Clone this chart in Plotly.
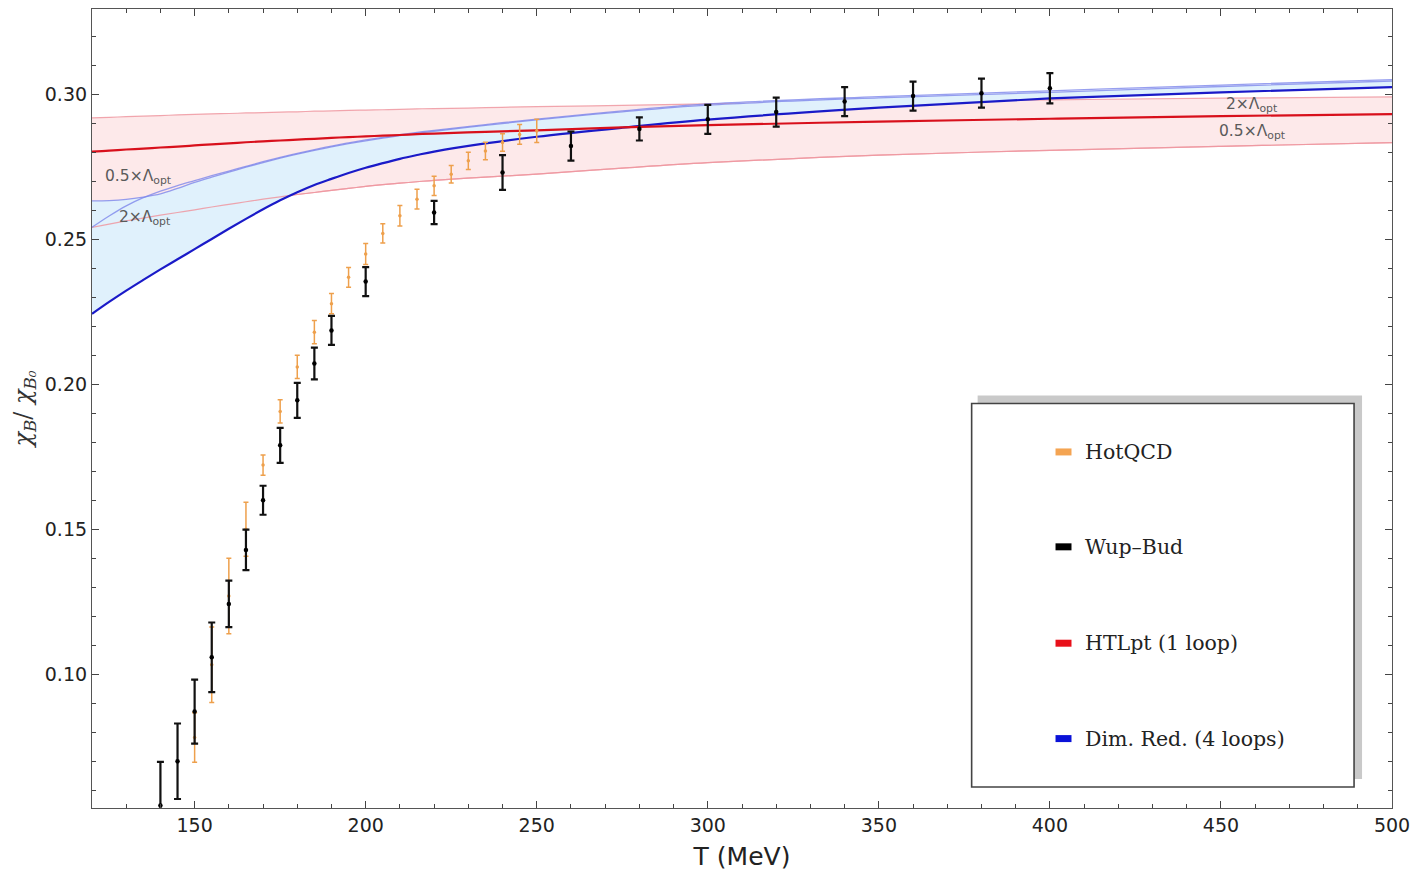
import plotly.graph_objects as go

# ---- lattice data: HotQCD ----
hot_T = [150, 155, 160, 165, 170, 175, 180, 185, 190, 195, 200,
         205, 210, 215, 220, 225, 230, 235, 240, 245, 250]
hot_val = [0.0784, 0.1034, 0.1271, 0.1501, 0.1722, 0.1907, 0.2060, 0.2180,
           0.2278, 0.2369, 0.2449, 0.2520, 0.2581, 0.2638, 0.2684, 0.2724,
           0.2770, 0.2804, 0.2833, 0.2861, 0.2873]
hot_err = [0.0085, 0.013, 0.013, 0.0093, 0.0035, 0.004, 0.004, 0.004,
           0.0035, 0.0034, 0.0036, 0.0033, 0.0035, 0.0034, 0.0033, 0.003,
           0.003, 0.003, 0.003, 0.0034, 0.004]

# ---- lattice data: Wuppertal-Budapest ----
wb_T = [140, 145, 150, 155, 160, 165, 170, 175, 180, 185, 190, 200,
        220, 240, 260, 280, 300, 320, 340, 360, 380, 400]
wb_val = [0.0550, 0.0702, 0.0873, 0.1060, 0.1244, 0.1430, 0.1601, 0.1790,
          0.1945, 0.2072, 0.2186, 0.2354, 0.2592, 0.2730, 0.2821, 0.2880,
          0.2913, 0.2938, 0.2974, 0.2993, 0.3003, 0.3020]
wb_err = [0.015, 0.013, 0.011, 0.012, 0.008, 0.007, 0.005, 0.006, 0.006,
          0.0055, 0.005, 0.005, 0.004, 0.006, 0.005, 0.004, 0.005, 0.005,
          0.005, 0.005, 0.005, 0.0052]

# ---- analytic curves on a common temperature grid ----
curve_T = [120, 125, 130, 135, 140, 145, 150, 155, 160, 165, 170, 175, 180,
           185, 190, 195, 200, 205, 210, 215, 220, 235, 250, 275, 300, 350,
           400, 450, 500]
htl_mid = [0.2802, 0.2805, 0.2809, 0.2812, 0.2816, 0.2819, 0.2823, 0.2827,
           0.2830, 0.2834, 0.2837, 0.2840, 0.2843, 0.2846, 0.2849, 0.2852,
           0.2854, 0.2857, 0.2859, 0.2862, 0.2864, 0.2870, 0.2875, 0.2885,
           0.2893, 0.2905, 0.2915, 0.2924, 0.2931]
htl_2x = [0.2918, 0.2920, 0.2922, 0.2924, 0.2926, 0.2928, 0.2930, 0.2932,
          0.2933, 0.2935, 0.2936, 0.2938, 0.2939, 0.2941, 0.2942, 0.2944,
          0.2945, 0.2946, 0.2947, 0.2949, 0.2950, 0.2953, 0.2957, 0.2961,
          0.2966, 0.2974, 0.2980, 0.2986, 0.2990]
htl_half = [0.2541, 0.2552, 0.2563, 0.2573, 0.2583, 0.2592, 0.2601, 0.2611,
            0.2620, 0.2629, 0.2638, 0.2646, 0.2654, 0.2661, 0.2668, 0.2675,
            0.2682, 0.2688, 0.2693, 0.2698, 0.2703, 0.2714, 0.2724, 0.2745,
            0.2764, 0.2790, 0.2806, 0.2820, 0.2833]
dr_mid = [0.2243, 0.2284, 0.2323, 0.2360, 0.2396, 0.2431, 0.2466, 0.2501,
          0.2536, 0.2570, 0.2603, 0.2634, 0.2662, 0.2687, 0.2708, 0.2728,
          0.2746, 0.2762, 0.2777, 0.2790, 0.2802, 0.2830, 0.2853, 0.2884,
          0.2912, 0.2953, 0.2985, 0.3006, 0.3024]
dr_half = [0.2632, 0.2633, 0.2637, 0.2645, 0.2656, 0.2675, 0.2696, 0.2714,
           0.2731, 0.2748, 0.2764, 0.2779, 0.2793, 0.2806, 0.2818, 0.2829,
           0.2839, 0.2848, 0.2857, 0.2865, 0.2872, 0.2892, 0.2911, 0.2939,
           0.2962, 0.2987, 0.3006, 0.3026, 0.3045]
dr_2x = [0.2541, 0.2580, 0.2615, 0.2643, 0.2666, 0.2685, 0.2702, 0.2719,
         0.2735, 0.2751, 0.2767, 0.2782, 0.2796, 0.2809, 0.2821, 0.2832,
         0.2842, 0.2851, 0.2860, 0.2868, 0.2875, 0.2895, 0.2914, 0.2942,
         0.2966, 0.2991, 0.3011, 0.3031, 0.3050]

x_ticks = [150, 200, 250, 300, 350, 400, 450, 500]
y_ticks = [0.10, 0.15, 0.20, 0.25, 0.30]

legend_names = ["HotQCD", "Wup\u2013Bud", "HTLpt (1 loop)", "Dim. Red. (4 loops)"]
legend_colors = ["#f4a452", "#000000", "#e8101a", "#0a12d8"]

ORANGE = "#eea04c"
PINK_FILL = "rgba(253,233,234,1)"
PINK_LINE = "rgba(238,150,160,0.85)"
BLUE_FILL = "rgba(224,241,252,1)"
BLUE_LIGHT = "rgba(125,135,235,0.8)"

fig = go.Figure()

# HTLpt band
fig.add_trace(go.Scatter(x=curve_T, y=htl_2x, mode="lines", line=dict(color=PINK_LINE, width=1.2, shape="spline"),
                         hoverinfo="skip"))
fig.add_trace(go.Scatter(x=curve_T, y=htl_half, mode="lines", line=dict(color=PINK_LINE, width=1.2, shape="spline"),
                         fill="tonexty", fillcolor=PINK_FILL, hoverinfo="skip"))

# Dimensional-reduction band
fig.add_trace(go.Scatter(x=curve_T, y=dr_half, mode="lines", line=dict(color="rgba(0,0,0,0)", width=0, shape="spline"),
                         hoverinfo="skip"))
fig.add_trace(go.Scatter(x=curve_T, y=dr_mid, mode="lines", line=dict(color="rgba(0,0,0,0)", width=0, shape="spline"),
                         fill="tonexty", fillcolor=BLUE_FILL, hoverinfo="skip"))

# edges drawn over the fills
fig.add_trace(go.Scatter(x=curve_T, y=htl_half, mode="lines", line=dict(color=PINK_LINE, width=1.2, shape="spline"),
                         hoverinfo="skip"))
fig.add_trace(go.Scatter(x=curve_T, y=dr_half, mode="lines", line=dict(color=BLUE_LIGHT, width=1.3, shape="spline"),
                         hoverinfo="skip"))
fig.add_trace(go.Scatter(x=curve_T, y=dr_2x, mode="lines", line=dict(color=BLUE_LIGHT, width=1.3, shape="spline"),
                         hoverinfo="skip"))
fig.add_trace(go.Scatter(x=curve_T, y=dr_mid, mode="lines", line=dict(color="#1a1ac8", width=2.2, shape="spline"),
                         hoverinfo="skip"))
fig.add_trace(go.Scatter(x=curve_T, y=htl_mid, mode="lines", line=dict(color="#d8101c", width=2.2, shape="spline"),
                         hoverinfo="skip"))

# lattice points
fig.add_trace(go.Scatter(x=hot_T, y=hot_val, mode="markers",
                         marker=dict(color=ORANGE, size=3.5),
                         error_y=dict(type="data", array=hot_err, color=ORANGE, thickness=1.5, width=2.5)))
fig.add_trace(go.Scatter(x=wb_T, y=wb_val, mode="markers",
                         marker=dict(color="#000000", size=4.5),
                         error_y=dict(type="data", array=wb_err, color="#111111", thickness=2.2, width=3.5)))

# scale-variation labels
lab_font = dict(family="DejaVu Sans", size=15.5, color="#5a5a5a")
for txt, tx, ty, anchor in [("0.5\u00d7\u039b<sub>opt</sub>", 123.3, 0.2716, "left"),
                            ("2\u00d7\u039b<sub>opt</sub>", 127.3, 0.2572, "left"),
                            ("2\u00d7\u039b<sub>opt</sub>", 459, 0.2961, "center"),
                            ("0.5\u00d7\u039b<sub>opt</sub>", 459, 0.2870, "center")]:
    fig.add_annotation(x=tx, y=ty, text=txt, showarrow=False, xanchor=anchor, yanchor="middle",
                       font=lab_font)

# legend box with drop shadow
W, H = 1302.0, 800.0
def px(xp):
    return (xp - 92) / W
def py(yp):
    return (808 - yp) / H

fig.add_shape(type="rect", xref="paper", yref="paper", x0=px(979), x1=px(1364), y0=py(779), y1=py(395),
              fillcolor="#c9c9c9", line=dict(width=0), layer="above")
fig.add_shape(type="rect", xref="paper", yref="paper", x0=px(973), x1=px(1356), y0=py(787), y1=py(403),
              fillcolor="white", line=dict(color="#444444", width=1.6), layer="above")
item_y = [451.5, 546.5, 643, 738.5]
for name, col, yy in zip(legend_names, legend_colors, item_y):
    fig.add_shape(type="rect", xref="paper", yref="paper", x0=px(1057), x1=px(1073),
                  y0=py(yy + 3.5), y1=py(yy - 3.5), fillcolor=col, line=dict(width=0), layer="above")
    fig.add_annotation(xref="paper", yref="paper", x=px(1085), y=py(yy), text=name, showarrow=False,
                       xanchor="left", yanchor="middle",
                       font=dict(family="DejaVu Serif", size=20.5, color="#222222"))

axis_common = dict(showline=True, linecolor="#555555", linewidth=1.2, mirror="ticks",
                   ticks="inside", ticklen=7, tickwidth=1.2, tickcolor="#444444",
                   showgrid=False, zeroline=False,
                   tickfont=dict(family="DejaVu Sans", size=19, color="#222222"))

fig.update_layout(
    width=1418, height=874,
    margin=dict(l=92, r=24, t=8, b=66),
    paper_bgcolor="white", plot_bgcolor="white",
    showlegend=False,
    xaxis=dict(range=[120, 500], tickvals=x_ticks, ticktext=[str(v) for v in x_ticks],
               minor=dict(dtick=10, tick0=0, ticks="inside", ticklen=4, tickcolor="#444444", tickwidth=1),
               title=dict(text="T (MeV)", font=dict(family="DejaVu Sans", size=25, color="#222222"), standoff=12),
               **axis_common),
    yaxis=dict(range=[0.0541, 0.3293], tickvals=y_ticks, ticktext=[f"{v:.2f}" for v in y_ticks],
               minor=dict(dtick=0.01, tick0=0, ticks="inside", ticklen=4, tickcolor="#444444", tickwidth=1),
               title=dict(text="<i>\u03c7<sub>B</sub></i>/ <i>\u03c7<sub>B\u2080</sub></i>",
                          font=dict(family="DejaVu Serif", size=24, color="#333333"), standoff=6),
               **axis_common),
)

fig.write_html("out.html")
